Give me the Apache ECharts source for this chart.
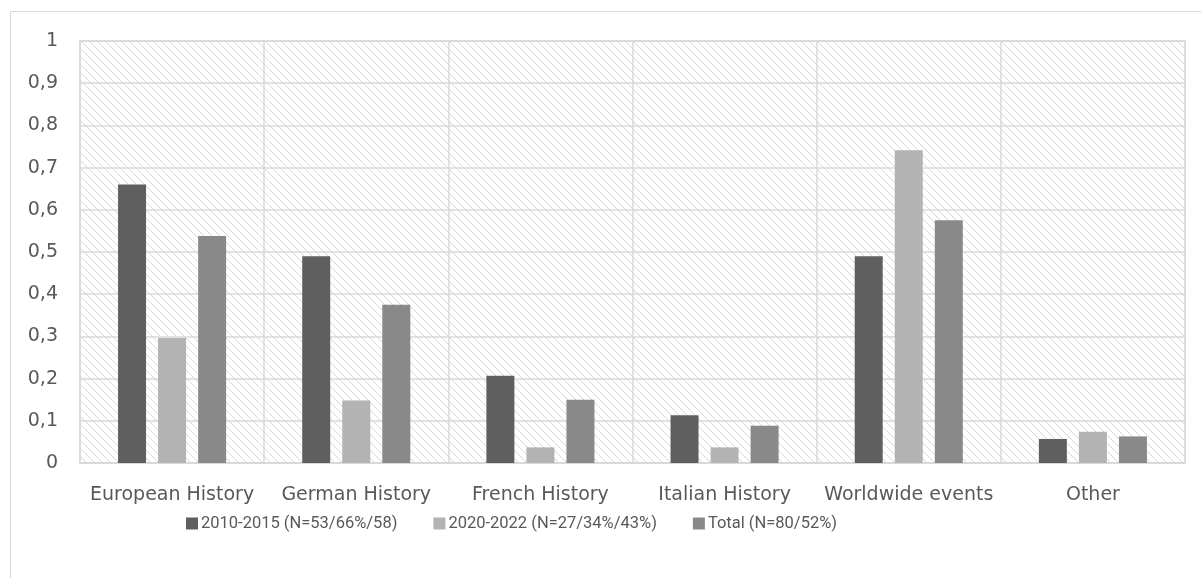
<!DOCTYPE html>
<html>
<head>
<meta charset="utf-8">
<style>
  html, body { margin: 0; padding: 0; background: #ffffff; }
  #chart { width: 1201px; height: 578px; }
</style>
<script src="https://cdn.jsdelivr.net/npm/echarts@6/dist/echarts.min.js"></script>
</head>
<body>
<div id="chart"></div>
<script>
// Topic categories
const categories = ['European History', 'German History', 'French History', 'Italian History', 'Worldwide events', 'Other'];

// Share of each topic per group
const series2010 = [0.66, 0.49, 0.207, 0.113, 0.49, 0.057];
const series2020 = [0.296, 0.148, 0.037, 0.037, 0.741, 0.074];
const seriesTotal = [0.538, 0.375, 0.15, 0.088, 0.575, 0.063];

const seriesNames = ['2010-2015 (N=53/66%/58)', '2020-2022 (N=27/34%/43%)', 'Total (N=80/52%)'];
const seriesColors = ['#5f5f5f', '#b3b3b3', '#898989'];

// Downward diagonal hatch used as the plot background
function makeHatch() {
  const size = 8;
  const c = document.createElement('canvas');
  c.width = size; c.height = size;
  const ctx = c.getContext('2d');
  ctx.fillStyle = '#ffffff';
  ctx.fillRect(0, 0, size, size);
  ctx.fillStyle = '#d6d6d6';
  for (let i = 0; i < size; i++) {
    ctx.fillRect(i, i, 1, 1);
  }
  return c;
}

const textColor = '#595959';
const gridColor = '#d9d9d9';
const axisFont = '"DejaVu Sans", "Open Sans", sans-serif';
const legendFont = 'Roboto, "Noto Sans", sans-serif';

const chart = echarts.init(document.getElementById('chart'), null, { renderer: 'canvas' });

const barSeries = [series2010, series2020, seriesTotal].map((data, i) => ({
  name: seriesNames[i],
  type: 'bar',
  data: data,
  barWidth: 28,
  barGap: '43%',
  itemStyle: { color: seriesColors[i] },
  silent: true
}));

chart.setOption({
  animation: false,
  backgroundColor: '#ffffff',
  textStyle: { fontFamily: axisFont },
  graphic: [{
    type: 'rect',
    shape: { x: 10.5, y: 11.5, width: 1250, height: 620 },
    style: { fill: 'none', stroke: gridColor, lineWidth: 1 },
    silent: true,
    z: -10
  }],
  grid: {
    left: 80,
    right: 16,
    top: 41,
    bottom: 115,
    show: true,
    backgroundColor: { image: makeHatch(), repeat: 'repeat' },
    borderColor: gridColor,
    borderWidth: 1.5
  },
  legend: {
    top: 510,
    left: 181,
    itemWidth: 12,
    itemHeight: 12,
    itemGap: 36,
    icon: 'rect',
    textStyle: { color: textColor, fontSize: 16.5, fontFamily: legendFont, padding: [0, 0, 0, -2] },
    data: seriesNames
  },
  xAxis: {
    type: 'category',
    data: categories,
    axisLine: { show: true, lineStyle: { color: gridColor, width: 1.5 } },
    axisTick: { show: false },
    splitLine: { show: true, interval: 0, lineStyle: { color: gridColor, width: 1.5 } },
    axisLabel: { color: textColor, fontSize: 19, margin: 23, interval: 0, hideOverlap: false, fontFamily: axisFont }
  },
  yAxis: {
    type: 'value',
    min: 0,
    max: 1,
    interval: 0.1,
    axisLine: { show: false },
    axisTick: { show: false },
    splitLine: { show: true, lineStyle: { color: gridColor, width: 1.5 } },
    axisLabel: {
      color: textColor,
      fontSize: 19,
      margin: 22,
      fontFamily: axisFont,
      formatter: v => String(Math.round(v * 10) / 10).replace('.', ',')
    }
  },
  series: barSeries
});
</script>
</body>
</html>
